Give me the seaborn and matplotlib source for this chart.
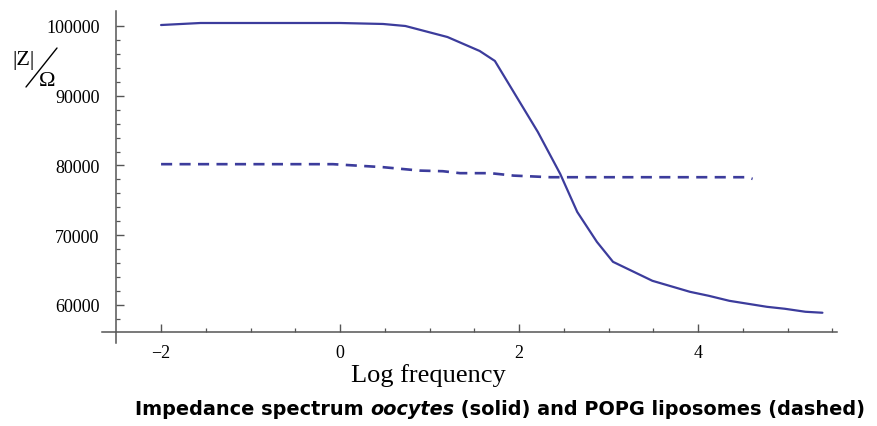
import numpy as np
import pandas as pd
import matplotlib
matplotlib.use("Agg")
import matplotlib.pyplot as plt
import seaborn as sns
from matplotlib.ticker import FixedLocator
from matplotlib.lines import Line2D

# ---------------- data ----------------
solid_x = [-2.0, -1.56, 0.0, 0.48, 0.73, 1.20, 1.56, 1.73, 2.21, 2.46, 2.65,
           2.87, 3.05, 3.49, 3.91, 4.12, 4.35, 4.77, 4.97, 5.20, 5.39]
solid_y = [100140, 100430, 100430, 100290, 100000, 98420, 96420, 94990, 84810,
           78800, 73350, 69050, 66190, 63470, 61890, 61320, 60600, 59740,
           59460, 59030, 58890]

dashed_x = [-2.0, -0.08, 0.48, 0.89, 1.15, 1.34, 1.68, 1.94, 2.35, 4.55, 4.61]
dashed_y = [80190, 80190, 79760, 79270, 79180, 78900, 78900, 78550, 78320,
            78320, 78080]

x_ticks = [-2, 0, 2, 4]
x_tick_labels = ["\u22122", "0", "2", "4"]
x_minor = [-1.5, -1.0, -0.5, 0.5, 1.0, 1.5, 2.5, 3.0, 3.5, 4.5, 5.0, 5.5]
y_ticks = [60000, 70000, 80000, 90000, 100000]
y_tick_labels = ["60000", "70000", "80000", "90000", "100000"]
y_minor = [58000, 62000, 64000, 66000, 68000, 72000, 74000, 76000, 78000,
           82000, 84000, 86000, 88000, 92000, 94000, 96000, 98000]

x_label = "Log frequency"
title_parts = [("Impedance spectrum ", "normal"), ("oocytes", "italic"),
               (" (solid) and POPG liposomes (dashed)", "normal")]

# ---------------- style ----------------
sns.set_theme(style="white")
plt.rcParams["font.family"] = ["Liberation Serif", "DejaVu Serif"]
plt.rcParams["text.color"] = "black"

W, H = 877, 427
fig = plt.figure(figsize=(W / 100, H / 100), dpi=100)
ax = fig.add_axes([102 / W, 1 - 344 / H, 735 / W, 332 / H])
ax.set_facecolor("none")

line_color = "#3c3c9c"
df_s = pd.DataFrame({"x": solid_x, "y": solid_y})
df_d = pd.DataFrame({"x": dashed_x, "y": dashed_y})
sns.lineplot(data=df_s, x="x", y="y", ax=ax, color=line_color, lw=1.6,
             sort=False, estimator=None)
sns.lineplot(data=df_d, x="x", y="y", ax=ax, color=line_color, lw=1.9,
             sort=False, estimator=None, linestyle=(0, (4.2, 2.8)))

ax.set_xlim(-2.66, 5.553)
ax.set_ylim(54552, 102150)

axis_color = "#555555"
for s in ["top", "right"]:
    ax.spines[s].set_visible(False)
ax.spines["left"].set_position(("data", -2.5))
ax.spines["bottom"].set_position(("data", 56130))
for s in ["left", "bottom"]:
    ax.spines[s].set_color(axis_color)
    ax.spines[s].set_linewidth(1.1)

ax.xaxis.set_major_locator(FixedLocator(x_ticks))
ax.set_xticklabels(x_tick_labels)
ax.xaxis.set_minor_locator(FixedLocator(x_minor))
ax.yaxis.set_major_locator(FixedLocator(y_ticks))
ax.set_yticklabels(y_tick_labels)
ax.yaxis.set_minor_locator(FixedLocator(y_minor))

ax.tick_params(axis="both", which="major", direction="in", length=6,
               width=1.0, color=axis_color, labelsize=13, labelcolor="black")
ax.tick_params(axis="both", which="minor", direction="in", length=3,
               width=0.9, color=axis_color)
ax.tick_params(axis="x", which="major", pad=8.5, bottom=True)
ax.tick_params(axis="y", which="major", pad=12, left=True)
ax.tick_params(axis="x", which="minor", bottom=True)
ax.tick_params(axis="y", which="minor", left=True)

ax.set_xlabel(x_label, fontsize=19, color="black")
ax.xaxis.set_label_coords((428 - 102) / 735, (344 - 364) / 332)
ax.set_ylabel("")

# y-axis label |Z| / Omega (beveled fraction)
fig.text(24 / W, 1 - 61 / H, "|Z|", ha="center", va="center", fontsize=16,
         color="black")
fig.text(47 / W, 1 - 81 / H, "\u03a9", ha="center", va="center", fontsize=16,
         color="black")
fig.add_artist(Line2D([26 / W, 57 / W], [1 - 88 / H, 1 - 49 / H],
                      transform=fig.transFigure, color="black", lw=1.0))

# title with italic part
renderer = fig.canvas.get_renderer()
base = 12
texts = []
for s, st in title_parts:
    t = fig.text(0, 0, s, fontsize=base, fontweight="bold", style=st,
                 family=["DejaVu Sans"], va="center", ha="left", color="black")
    texts.append(t)
widths = [t.get_window_extent(renderer).width for t in texts]
scale = 727 / sum(widths)
size = base * scale
x0 = 135
for t in texts:
    t.set_fontsize(size)
widths = [t.get_window_extent(renderer).width for t in texts]
for t, w in zip(texts, widths):
    t.set_position((x0 / W, 1 - 410 / H))
    x0 += w

fig.savefig("out.png", dpi=100)
